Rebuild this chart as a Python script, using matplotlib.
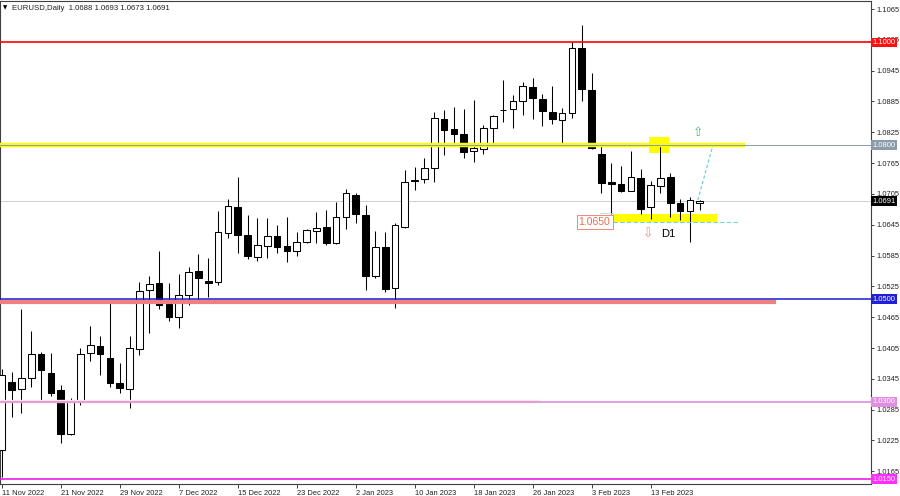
import matplotlib.pyplot as plt
import numpy as np

plt.rcParams['font.family'] = ['Liberation Sans', 'DejaVu Sans']

symbol = "EURUSD,Daily"

# daily bars 11 Nov 2022 .. 20 Feb 2023
opens = [1.0207, 1.0339, 1.0325, 1.0347, 1.0393, 1.0356, 1.0323, 1.0238, 1.0300, 1.0395,
         1.0409, 1.0386, 1.0337, 1.0325, 1.0403, 1.0518, 1.0532, 1.0491, 1.0465, 1.0508,
         1.0555, 1.0536, 1.0534, 1.0629, 1.0679, 1.0625, 1.0582, 1.0604, 1.0623, 1.0604,
         1.0594, 1.0611, 1.0633, 1.0641, 1.0609, 1.0660, 1.0703, 1.0664, 1.0545, 1.0602,
         1.0522, 1.0641, 1.0730, 1.0734, 1.0755, 1.0851, 1.0831, 1.0822, 1.0789, 1.0792,
         1.0833, 1.0868, 1.0870, 1.0886, 1.0913, 1.0890, 1.0864, 1.0849, 1.0863, 1.0989,
         1.0907, 1.0783, 1.0728, 1.0724, 1.0711, 1.0736, 1.0679, 1.0721, 1.0738, 1.0687,
         1.0672, 1.0688]
highs = [1.0364, 1.0358, 1.0481, 1.0438, 1.0397, 1.0395, 1.0333, 1.0308, 1.0405, 1.0448,
         1.0428, 1.0499, 1.0376, 1.0428, 1.0534, 1.0545, 1.0594, 1.0532, 1.0549, 1.0563,
         1.0588, 1.0580, 1.0672, 1.0695, 1.0738, 1.0664, 1.0658, 1.0658, 1.0645, 1.0660,
         1.0631, 1.0637, 1.0670, 1.0674, 1.0689, 1.0715, 1.0707, 1.0683, 1.0633, 1.0631,
         1.0648, 1.0752, 1.0757, 1.0775, 1.0865, 1.0868, 1.0874, 1.0870, 1.0888, 1.0839,
         1.0858, 1.0927, 1.0898, 1.0923, 1.0931, 1.0900, 1.0915, 1.0872, 1.1001, 1.1034,
         1.0940, 1.0798, 1.0765, 1.0759, 1.0789, 1.0754, 1.0730, 1.0804, 1.0746, 1.0695,
         1.0699, 1.0693]
lows = [1.0154, 1.0271, 1.0279, 1.0329, 1.0304, 1.0312, 1.0220, 1.0236, 1.0294, 1.0380,
        1.0352, 1.0329, 1.0317, 1.0288, 1.0391, 1.0434, 1.0481, 1.0458, 1.0444, 1.0489,
        1.0493, 1.0504, 1.0528, 1.0619, 1.0590, 1.0578, 1.0574, 1.0580, 1.0590, 1.0572,
        1.0584, 1.0609, 1.0609, 1.0605, 1.0607, 1.0637, 1.0648, 1.0518, 1.0541, 1.0514,
        1.0483, 1.0639, 1.0713, 1.0726, 1.0728, 1.0781, 1.0800, 1.0775, 1.0767, 1.0783,
        1.0800, 1.0845, 1.0833, 1.0858, 1.0851, 1.0837, 1.0841, 1.0800, 1.0853, 1.0886,
        1.0792, 1.0707, 1.0666, 1.0709, 1.0710, 1.0666, 1.0656, 1.0707, 1.0660, 1.0654,
        1.0611, 1.0673]
closes = [1.0352, 1.0323, 1.0347, 1.0393, 1.0362, 1.0317, 1.0238, 1.0300, 1.0393, 1.0411,
          1.0393, 1.0337, 1.0327, 1.0405, 1.0516, 1.0530, 1.0489, 1.0465, 1.0508, 1.0553,
          1.0541, 1.0532, 1.0631, 1.0681, 1.0625, 1.0584, 1.0606, 1.0623, 1.0602, 1.0594,
          1.0611, 1.0635, 1.0639, 1.0609, 1.0660, 1.0707, 1.0666, 1.0545, 1.0602, 1.0520,
          1.0645, 1.0728, 1.0732, 1.0755, 1.0853, 1.0829, 1.0822, 1.0787, 1.0794, 1.0833,
          1.0857, 1.0869, 1.0886, 1.0915, 1.0892, 1.0866, 1.0851, 1.0863, 1.0989, 1.0909,
          1.0794, 1.0726, 1.0724, 1.0711, 1.0738, 1.0676, 1.0722, 1.0736, 1.0687, 1.0672,
          1.0693, 1.0691]

date_labels = ["11 Nov 2022", "21 Nov 2022", "29 Nov 2022", "7 Dec 2022", "15 Dec 2022",
               "23 Dec 2022", "2 Jan 2023", "10 Jan 2023", "18 Jan 2023", "26 Jan 2023",
               "3 Feb 2023", "13 Feb 2023"]
date_bars = [0, 6, 12, 18, 24, 30, 36, 42, 48, 54, 60, 66]

price_ticks = [1.1065, 1.1005, 1.0945, 1.0885, 1.0825, 1.0765, 1.0705, 1.0645, 1.0585,
               1.0525, 1.0465, 1.0405, 1.0345, 1.0285, 1.0225, 1.0165]

# levels drawn on the chart
res_level = 1.1000
mid_level = 1.0800
sup_level = 1.0500
low_level = 1.0300
bottom_level = 1.0150
zone_label = "1.0650"

fig = plt.figure(figsize=(9, 4.96), dpi=100)
ax = fig.add_axes([0.0, 12 / 496, 871 / 900, 483 / 496])
ax.set_xlim(-0.18, 88.42)
ax.set_ylim(1.01403, 1.10806)

x = np.arange(len(opens))
o = np.array(opens)
c = np.array(closes)

# yellow zone boxes (background)
ax.fill_between([62.2, 72.75], 1.0651, 1.0666, color='#ffff00', lw=0, zorder=1)
ax.fill_between([65.8, 67.9], 1.0785, 1.0816, color='#ffff00', lw=0, zorder=1)

# candles
ax.vlines(x, lows, highs, color='black', lw=0.75, zorder=3)
body_col = np.where(c < o, 'black', 'white')
ax.bar(x, np.abs(c - o), bottom=np.minimum(o, c), width=0.68, color=body_col,
       edgecolor='black', linewidth=0.75, zorder=4)

# horizontal objects
ax.plot([-0.18, 78.8], [1.0495, 1.0495], color='#f08080', lw=3.0, solid_capstyle='butt', zorder=5)
ax.plot([-0.18, 54.75], [1.0301, 1.0301], color='#fbe6d6', lw=2.4, solid_capstyle='butt', zorder=5)
ax.plot([-0.18, 75.6], [mid_level, mid_level], color='#ffff00', lw=3.2, solid_capstyle='butt', zorder=5)
ax.axhline(closes[-1], color='#c8c8c8', lw=0.6, zorder=2)
ax.axhline(res_level, color='#ff0000', lw=1.2, zorder=6)
ax.axhline(mid_level, color='#8c9bab', lw=0.7, zorder=6)
ax.axhline(sup_level, color='#1a1acc', lw=1.1, zorder=6)
ax.axhline(low_level, color='#e08ee0', lw=1.2, zorder=6)
ax.axhline(bottom_level, color='#e61ee6', lw=1.2, zorder=6)

# dashed projection lines
ax.plot([62.2, 74.9], [1.0651, 1.0651], color='#7fd0d0', lw=0.8, ls=(0, (4, 2)), zorder=6)
ax.plot([60.9, 62.2], [1.0668, 1.0668], color='#a8e0e0', lw=0.6, zorder=6)
ax.plot([70.8, 72.35], [1.0693, 1.0800], color='#66cccc', lw=0.8, ls=(0, (3, 2)), zorder=6)

# markers and labels on the chart
ax.text(70.82, 1.0825, "\u21e7", color='#4fb97f', fontsize=9, ha='center', va='center',
        family=['DejaVu Sans'], zorder=7)
ax.text(65.77, 1.0627, "\u21e9", color='#f08a78', fontsize=9, ha='center', va='center',
        family=['DejaVu Sans'], zorder=7)
ax.text(67.82, 1.0627, "D1", color='black', fontsize=8, ha='center', va='center', zorder=7)
ax.text(60.3, 1.0651, zone_label, color='#f06a50', fontsize=7.5, ha='center', va='center',
        bbox=dict(boxstyle='square,pad=0.2', fc='white', ec='#f08878', lw=0.7), zorder=8)

# axes styling
for s in ax.spines.values():
    s.set_color('#404040')
    s.set_linewidth(0.8)
ax.yaxis.tick_right()
ax.set_yticks(price_ticks)
ax.set_yticklabels([f"{p:.4f}" for p in price_ticks])
ax.set_xticks(date_bars)
ax.set_xticklabels(date_labels)
for lab in ax.get_xticklabels():
    lab.set_ha('left')
ax.tick_params(axis='y', direction='out', length=2.5, width=0.6, pad=1.5, labelsize=5.4,
               colors='#202020')
ax.tick_params(axis='x', direction='out', length=3, width=0.6, pad=1, labelsize=5.4,
               colors='#202020')

# price tags on the right scale
def price_tag(level, bg, fg='white'):
    ax.text(1.0015, level, f"{level:.4f}", transform=ax.get_yaxis_transform(),
            fontsize=5.4, color=fg, ha='left', va='center', clip_on=False, zorder=10,
            bbox=dict(boxstyle='square,pad=0.18', fc=bg, ec='none'))

price_tag(res_level, '#ff1010')
price_tag(mid_level, '#8c9bab')
price_tag(closes[-1], 'black')
price_tag(sup_level, '#2020d8')
price_tag(low_level, '#e08ee0')
price_tag(bottom_level, '#ff30ff')

# header
fig.text(3 / 900, 1 - 8 / 496, "\u25bc", fontsize=4, va='center', ha='left', family=['DejaVu Sans'])
fig.text(12 / 900, 1 - 8 / 496,
         f"{symbol}  {opens[-1]:.4f} {highs[-1]:.4f} {lows[-1]:.4f} {closes[-1]:.4f}",
         fontsize=5.6, va='center', ha='left', color='#202020')

fig.savefig("out.png", dpi=100)
